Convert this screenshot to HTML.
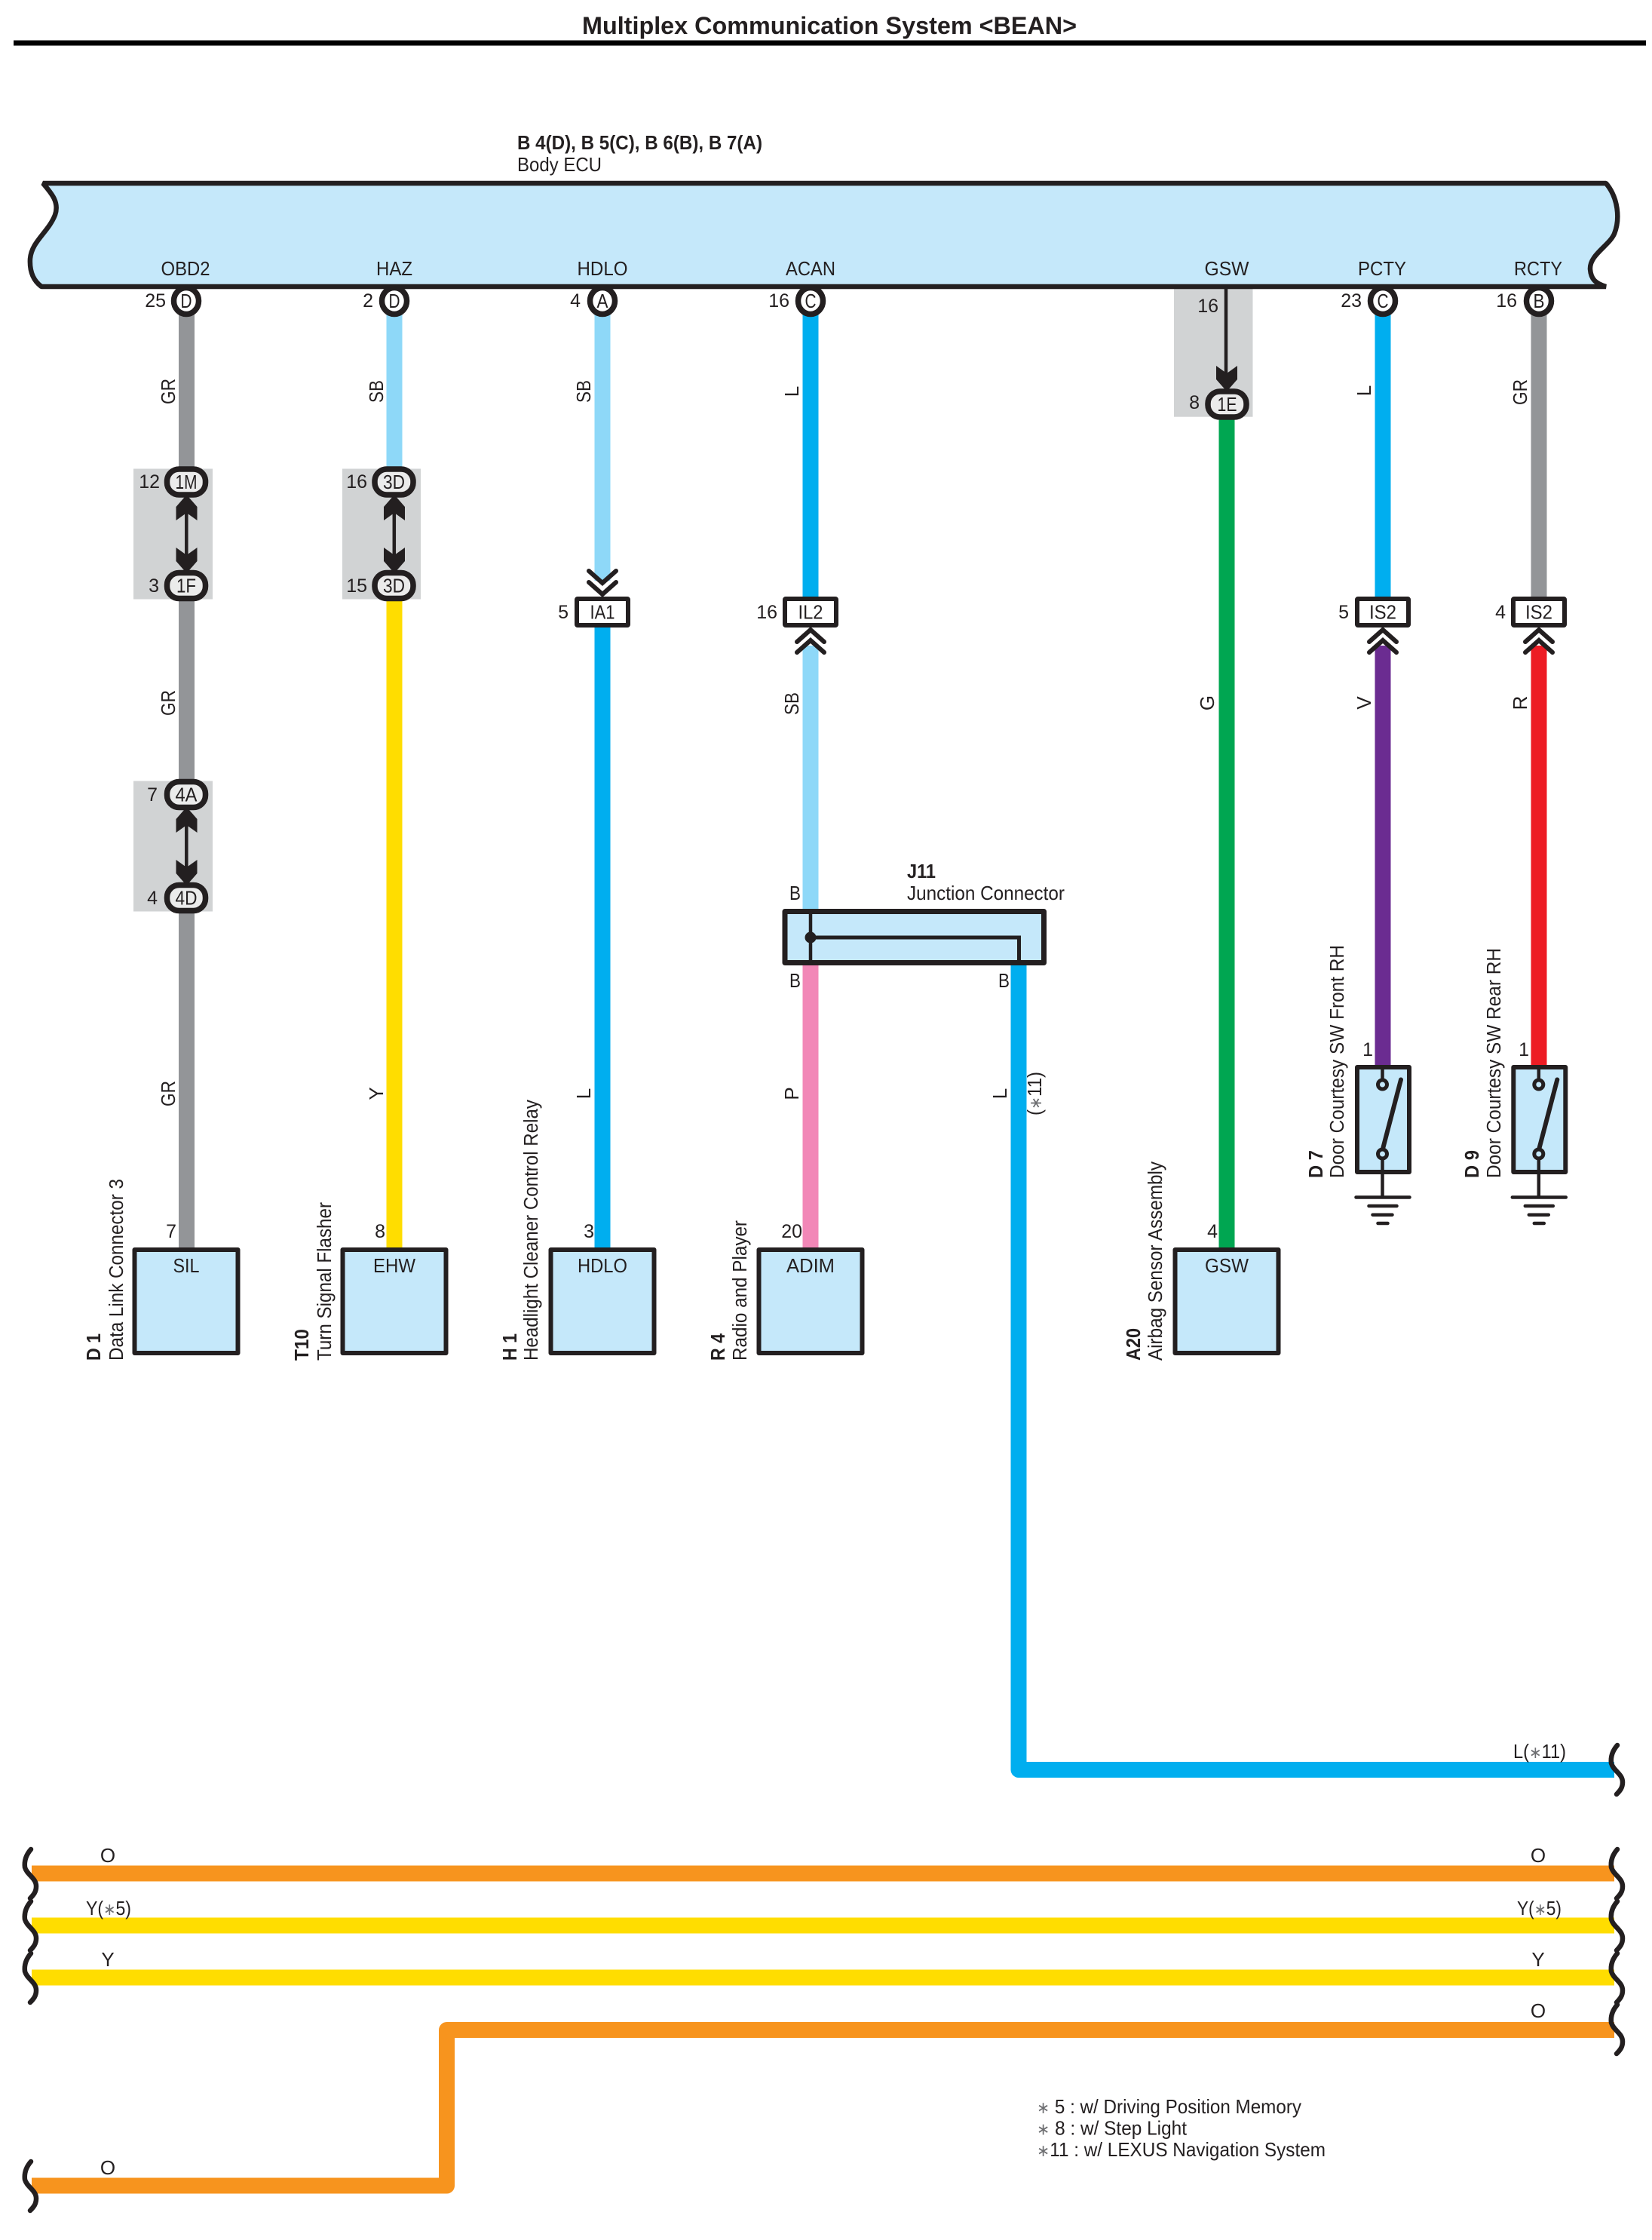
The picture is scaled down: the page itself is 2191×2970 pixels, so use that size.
<!DOCTYPE html>
<html><head><meta charset="utf-8"><style>
html,body{margin:0;padding:0;background:#fff}
svg{display:block}
text{font-family:"Liberation Sans",sans-serif;font-size:26px;fill:#231f20}
.b{font-weight:bold}
.m{text-anchor:middle}
.e{text-anchor:end;font-size:25px}
.n{font-size:25.5px}
.s{fill:#6d6e71;font-size:22px}
</style></head><body>
<svg width="2191" height="2970" viewBox="0 0 2191 2970" xmlns="http://www.w3.org/2000/svg">
<defs>
<path id="brk" d="M0,0 C-7,8 -9,16 -8,24 C-5,34 7,38 7,49 C7,56 4,60 -1,65" fill="none" stroke="#231f20" stroke-width="6.5" stroke-linecap="round"/>
<path id="up" d="M0,-4 L14,12 L14,30 L0,20 L-14,30 L-14,12 Z" fill="#231f20"/>
<path id="dn" d="M0,4 L14,-12 L14,-30 L0,-20 L-14,-30 L-14,-12 Z" fill="#231f20"/>
<path id="cd" d="M-18,-8 L0,8 L18,-8 M-18,7 L0,23 L18,7" fill="none" stroke="#231f20" stroke-width="6" stroke-linecap="round" stroke-linejoin="miter"/>
<path id="cu" d="M-18,8 L0,-8 L18,8 M-18,22 L0,6 L18,22" fill="none" stroke="#231f20" stroke-width="6" stroke-linecap="round" stroke-linejoin="miter"/>
<rect id="ov" x="-25.5" y="-17" width="51" height="34" rx="16" fill="#ebebeb" stroke="#231f20" stroke-width="7.5"/>
<rect id="sq" x="-34" y="-17.5" width="68" height="35" rx="1" fill="#fff" stroke="#231f20" stroke-width="6" stroke-linejoin="round"/>
<ellipse id="ci" cx="0" cy="0" rx="16.5" ry="17.5" fill="#fff" stroke="#231f20" stroke-width="7.5"/>
<rect id="box" x="0" y="0" width="137" height="137" fill="#c5e8fa" stroke="#231f20" stroke-width="6" stroke-linejoin="round"/>
<g id="sw">
<rect x="-33.5" y="3" width="69" height="139" fill="#c5e8fa" stroke="#231f20" stroke-width="6" stroke-linejoin="round"/>
<path d="M0,3 V18 M0,126 V175" stroke="#231f20" stroke-width="4.5" fill="none"/>
<path d="M0,113 L24.5,19.5" stroke="#231f20" stroke-width="6" stroke-linecap="round"/>
<circle cx="0" cy="26" r="6" fill="#c5e8fa" stroke="#231f20" stroke-width="5"/>
<circle cx="0" cy="118" r="6" fill="#c5e8fa" stroke="#231f20" stroke-width="5"/>
<path d="M-35,175.5 H36 M-18,187 H19 M-13,198.7 H13 M-6,210 H7" stroke="#231f20" stroke-width="4.5" stroke-linecap="round" fill="none"/>
</g>
</defs>

<rect width="2191" height="2970" fill="#fff"/>

<text class="b" x="772" y="45" style="font-size:32px" textLength="656" lengthAdjust="spacingAndGlyphs">Multiplex Communication System &lt;BEAN&gt;</text>
<rect x="18" y="53.5" width="2165" height="7" fill="#000"/>

<text class="b" x="686" y="198" textLength="325" lengthAdjust="spacingAndGlyphs">B 4(D), B 5(C), B 6(B), B 7(A)</text>
<text x="686" y="227" textLength="112" lengthAdjust="spacingAndGlyphs">Body ECU</text>

<!-- grey boxes -->
<rect x="177" y="621.5" width="105" height="173" fill="#d1d3d4"/>
<rect x="454" y="621.5" width="104" height="173" fill="#d1d3d4"/>
<rect x="177" y="1035.5" width="105" height="173" fill="#d1d3d4"/>
<rect x="1557" y="380" width="104.5" height="172.7" fill="#d1d3d4"/>

<!-- wires -->
<g fill="none" stroke-width="21">
<path d="M247.5,415 V625 M247.5,792 V1040 M247.5,1205 V1656" stroke="#939598"/>
<path d="M523,415 V625" stroke="#8ed8f8"/>
<path d="M523,792 V1656" stroke="#ffdd00"/>
<path d="M799,415 V770" stroke="#8ed8f8"/>
<path d="M799,828 V1656" stroke="#00aeef"/>
<path d="M1075,415 V795" stroke="#00aeef"/>
<path d="M1075,856 V1210" stroke="#8ed8f8"/>
<path d="M1075,1275 V1656" stroke="#f287b7"/>
<path d="M1627,552 V1656" stroke="#00a651"/>
<path d="M1834,415 V795" stroke="#00aeef"/>
<path d="M1834,856 V1414" stroke="#6b2c91"/>
<path d="M2041,415 V795" stroke="#939598"/>
<path d="M2041,856 V1414" stroke="#ed1c24"/>
<path d="M1351,1275 V2346.5 H2141" stroke="#00aeef" stroke-linejoin="round"/>
<path d="M42,2484 H2141" stroke="#f7941e"/>
<path d="M42,2553 H2141" stroke="#ffdd00"/>
<path d="M42,2622 H2141" stroke="#ffdd00"/>
<path d="M42,2898 H592.5 V2691.5 H2141" stroke="#f7941e" stroke-linejoin="round"/>
</g>

<!-- ECU -->
<path d="M57,243 H2130 C2146,262 2149,290 2141,310 C2134,326 2108,338 2109,357 C2110,370 2116,376 2130,380 H55 C44,372 39,360 40,343 C42,320 64,308 73,285 C79,268 68,256 57,243 Z" fill="#c5e8fa" stroke="#231f20" stroke-width="6.5" stroke-linejoin="bevel"/>

<g>
<text class="m" x="246" y="365" textLength="65" lengthAdjust="spacingAndGlyphs">OBD2</text>
<text class="m" x="523" y="365" textLength="48" lengthAdjust="spacingAndGlyphs">HAZ</text>
<text class="m" x="799" y="365" textLength="67" lengthAdjust="spacingAndGlyphs">HDLO</text>
<text class="m" x="1075" y="365" textLength="66" lengthAdjust="spacingAndGlyphs">ACAN</text>
<text class="m" x="1627" y="365" textLength="59" lengthAdjust="spacingAndGlyphs">GSW</text>
<text class="m" x="1833" y="365" textLength="64" lengthAdjust="spacingAndGlyphs">PCTY</text>
<text class="m" x="2040" y="365" textLength="64" lengthAdjust="spacingAndGlyphs">RCTY</text>
</g>

<!-- ECU pins -->
<use href="#ci" x="247" y="399"/><text class="m" x="247" y="408" textLength="15" lengthAdjust="spacingAndGlyphs">D</text><text class="e" x="220" y="407">25</text>
<use href="#ci" x="523" y="399"/><text class="m" x="523" y="408" textLength="15" lengthAdjust="spacingAndGlyphs">D</text><text class="e" x="495" y="407">2</text>
<use href="#ci" x="799" y="399"/><text class="m" x="799" y="408" textLength="15" lengthAdjust="spacingAndGlyphs">A</text><text class="e" x="770" y="407">4</text>
<use href="#ci" x="1075" y="399"/><text class="m" x="1075" y="408" textLength="15" lengthAdjust="spacingAndGlyphs">C</text><text class="e" x="1047" y="407">16</text>
<use href="#ci" x="1834" y="399"/><text class="m" x="1834" y="408" textLength="15" lengthAdjust="spacingAndGlyphs">C</text><text class="e" x="1806" y="407">23</text>
<use href="#ci" x="2041" y="399"/><text class="m" x="2041" y="408" textLength="15" lengthAdjust="spacingAndGlyphs">B</text><text class="e" x="2012" y="407">16</text>

<!-- joint arrows -->
<path d="M247.3,670 V746 M522.8,670 V746 M247.3,1084 V1160" stroke="#231f20" stroke-width="4.5"/>
<use href="#up" x="247.5" y="660"/><use href="#dn" x="247.5" y="756"/>
<use href="#up" x="523" y="660"/><use href="#dn" x="523" y="756"/>
<use href="#up" x="247.5" y="1074"/><use href="#dn" x="247.5" y="1170"/>
<path d="M1626,380 V505" stroke="#231f20" stroke-width="4.5"/>
<use href="#dn" x="1627" y="515"/>

<!-- ovals -->
<use href="#ov" x="247" y="639"/><text class="m" x="247" y="648" textLength="29" lengthAdjust="spacingAndGlyphs">1M</text><text class="e" x="212" y="647">12</text>
<use href="#ov" x="247" y="776.5"/><text class="m" x="247" y="785.5" textLength="26" lengthAdjust="spacingAndGlyphs">1F</text><text class="e" x="211" y="785">3</text>
<use href="#ov" x="522.5" y="639"/><text class="m" x="522.5" y="648" textLength="29" lengthAdjust="spacingAndGlyphs">3D</text><text class="e" x="487" y="647">16</text>
<use href="#ov" x="522.5" y="776.5"/><text class="m" x="522.5" y="785.5" textLength="29" lengthAdjust="spacingAndGlyphs">3D</text><text class="e" x="487" y="785">15</text>
<use href="#ov" x="247" y="1053.5"/><text class="m" x="247" y="1062.5" textLength="29" lengthAdjust="spacingAndGlyphs">4A</text><text class="e" x="209" y="1062">7</text>
<use href="#ov" x="247" y="1190.5"/><text class="m" x="247" y="1199.5" textLength="29" lengthAdjust="spacingAndGlyphs">4D</text><text class="e" x="209" y="1199">4</text>
<use href="#ov" x="1627.5" y="536"/><text class="m" x="1627.5" y="545" textLength="26" lengthAdjust="spacingAndGlyphs">1E</text><text class="e" x="1591" y="542">8</text>
<text class="e" x="1616" y="414">16</text>

<!-- square connectors -->
<use href="#cd" x="799" y="765"/>
<use href="#sq" x="799" y="811.5"/><text class="m" x="799" y="820.5" textLength="33" lengthAdjust="spacingAndGlyphs">IA1</text><text class="e" x="754" y="820">5</text>
<use href="#sq" x="1075" y="811.5"/><text class="m" x="1075" y="820.5" textLength="33" lengthAdjust="spacingAndGlyphs">IL2</text><text class="e" x="1031" y="820">16</text>
<use href="#cu" x="1075" y="843"/>
<use href="#sq" x="1834" y="811.5"/><text class="m" x="1834" y="820.5" textLength="36" lengthAdjust="spacingAndGlyphs">IS2</text><text class="e" x="1789" y="820">5</text>
<use href="#cu" x="1834" y="843"/>
<use href="#sq" x="2041" y="811.5"/><text class="m" x="2041" y="820.5" textLength="36" lengthAdjust="spacingAndGlyphs">IS2</text><text class="e" x="1997" y="820">4</text>
<use href="#cu" x="2041" y="843"/>

<!-- J11 -->
<rect x="1041" y="1208.5" width="343.5" height="68" fill="#c5e8fa" stroke="#231f20" stroke-width="7" stroke-linejoin="round"/>
<path d="M1075,1205 V1280" stroke="#231f20" stroke-width="4.5" fill="none"/>
<path d="M1075,1243 H1351.5 V1280" stroke="#231f20" stroke-width="5" fill="none"/>
<circle cx="1075" cy="1243" r="7.5" fill="#231f20"/>
<text class="b" x="1203" y="1164" textLength="38" lengthAdjust="spacingAndGlyphs">J11</text>
<text x="1203" y="1193" textLength="209" lengthAdjust="spacingAndGlyphs">Junction Connector</text>
<text x="1047" y="1193" textLength="15" lengthAdjust="spacingAndGlyphs">B</text>
<text x="1047" y="1309" textLength="15" lengthAdjust="spacingAndGlyphs">B</text>
<text x="1324" y="1309" textLength="15" lengthAdjust="spacingAndGlyphs">B</text>

<!-- component boxes -->
<use href="#box" x="178.5" y="1657"/><text class="m" x="247" y="1687" textLength="35" lengthAdjust="spacingAndGlyphs">SIL</text><text class="e" x="234" y="1641">7</text>
<use href="#box" x="454.5" y="1657"/><text class="m" x="523" y="1687" textLength="56" lengthAdjust="spacingAndGlyphs">EHW</text><text class="e" x="511" y="1641">8</text>
<use href="#box" x="730.5" y="1657"/><text class="m" x="799" y="1687" textLength="66" lengthAdjust="spacingAndGlyphs">HDLO</text><text class="e" x="788" y="1641">3</text>
<use href="#box" x="1006.5" y="1657"/><text class="m" x="1075" y="1687" textLength="64" lengthAdjust="spacingAndGlyphs">ADIM</text><text class="e" x="1064" y="1641">20</text>
<use href="#box" x="1558.5" y="1657"/><text class="m" x="1627" y="1687" textLength="58" lengthAdjust="spacingAndGlyphs">GSW</text><text class="e" x="1615" y="1641">4</text>

<!-- switches -->
<use href="#sw" x="1833.5" y="1412"/>
<use href="#sw" x="2040.8" y="1412"/>
<text class="e" x="1821" y="1400">1</text>
<text class="e" x="2028" y="1400">1</text>

<!-- rotated names -->
<text class="b" transform="translate(133,1804) rotate(-90)" textLength="36" lengthAdjust="spacingAndGlyphs">D 1</text>
<text class="n" transform="translate(163,1804) rotate(-90)" textLength="241" lengthAdjust="spacingAndGlyphs">Data Link Connector 3</text>
<text class="b" transform="translate(409,1804) rotate(-90)" textLength="42" lengthAdjust="spacingAndGlyphs">T10</text>
<text class="n" transform="translate(439,1804) rotate(-90)" textLength="210" lengthAdjust="spacingAndGlyphs">Turn Signal Flasher</text>
<text class="b" transform="translate(685,1804) rotate(-90)" textLength="36" lengthAdjust="spacingAndGlyphs">H 1</text>
<text class="n" transform="translate(713,1804) rotate(-90)" textLength="346" lengthAdjust="spacingAndGlyphs">Headlight Cleaner Control Relay</text>
<text class="b" transform="translate(961,1804) rotate(-90)" textLength="36" lengthAdjust="spacingAndGlyphs">R 4</text>
<text class="n" transform="translate(990,1804) rotate(-90)" textLength="186" lengthAdjust="spacingAndGlyphs">Radio and Player</text>
<text class="b" transform="translate(1512,1804) rotate(-90)" textLength="43" lengthAdjust="spacingAndGlyphs">A20</text>
<text class="n" transform="translate(1541,1804) rotate(-90)" textLength="264" lengthAdjust="spacingAndGlyphs">Airbag Sensor Assembly</text>
<text class="b" transform="translate(1754,1562) rotate(-90)" textLength="37" lengthAdjust="spacingAndGlyphs">D 7</text>
<text class="n" transform="translate(1782,1562) rotate(-90)" textLength="309" lengthAdjust="spacingAndGlyphs">Door Courtesy SW Front RH</text>
<text class="b" transform="translate(1961,1562) rotate(-90)" textLength="37" lengthAdjust="spacingAndGlyphs">D 9</text>
<text class="n" transform="translate(1990,1562) rotate(-90)" textLength="305" lengthAdjust="spacingAndGlyphs">Door Courtesy SW Rear RH</text>

<!-- wire labels -->
<g>
<text class="m" transform="translate(232,519) rotate(-90)" textLength="34" lengthAdjust="spacingAndGlyphs">GR</text>
<text class="m" transform="translate(232,932) rotate(-90)" textLength="34" lengthAdjust="spacingAndGlyphs">GR</text>
<text class="m" transform="translate(232,1450) rotate(-90)" textLength="34" lengthAdjust="spacingAndGlyphs">GR</text>
<text class="m" transform="translate(508,519) rotate(-90)" textLength="30" lengthAdjust="spacingAndGlyphs">SB</text>
<text class="m" transform="translate(508,1450) rotate(-90)">Y</text>
<text class="m" transform="translate(783,519) rotate(-90)" textLength="30" lengthAdjust="spacingAndGlyphs">SB</text>
<text class="m" transform="translate(783,1450) rotate(-90)">L</text>
<text class="m" transform="translate(1059,519) rotate(-90)">L</text>
<text class="m" transform="translate(1059,933) rotate(-90)" textLength="30" lengthAdjust="spacingAndGlyphs">SB</text>
<text class="m" transform="translate(1059,1450) rotate(-90)">P</text>
<text class="m" transform="translate(1335,1450) rotate(-90)">L</text>
<text class="m" transform="translate(1381,1450) rotate(-90)" textLength="58" lengthAdjust="spacingAndGlyphs">(<tspan class="s">∗</tspan>11)</text>
<text class="m" transform="translate(1610,932) rotate(-90)">G</text>
<text class="m" transform="translate(1818,518) rotate(-90)">L</text>
<text class="m" transform="translate(1818,932) rotate(-90)">V</text>
<text class="m" transform="translate(2025,520) rotate(-90)" textLength="34" lengthAdjust="spacingAndGlyphs">GR</text>
<text class="m" transform="translate(2025,932) rotate(-90)">R</text>
</g>

<!-- bottom wire labels -->
<text class="m" x="143" y="2469">O</text>
<text x="114" y="2539" textLength="60" lengthAdjust="spacingAndGlyphs">Y(<tspan class="s">∗</tspan>5)</text>
<text class="m" x="143" y="2607">Y</text>
<text class="m" x="143" y="2883">O</text>
<text x="2007" y="2331" textLength="70" lengthAdjust="spacingAndGlyphs">L(<tspan class="s">∗</tspan>11)</text>
<text class="m" x="2040" y="2469">O</text>
<text x="2012" y="2539" textLength="59" lengthAdjust="spacingAndGlyphs">Y(<tspan class="s">∗</tspan>5)</text>
<text class="m" x="2040" y="2607">Y</text>
<text class="m" x="2040" y="2675">O</text>

<!-- break marks -->
<use href="#brk" x="41" y="2452"/><use href="#brk" x="41" y="2521"/><use href="#brk" x="41" y="2590"/><use href="#brk" x="41" y="2866"/>
<use href="#brk" x="2145" y="2314"/><use href="#brk" x="2145" y="2452"/><use href="#brk" x="2145" y="2521"/><use href="#brk" x="2145" y="2590"/><use href="#brk" x="2145" y="2658"/>

<!-- notes -->
<text x="1375" y="2802" textLength="351" lengthAdjust="spacingAndGlyphs"><tspan class="s">∗</tspan> 5 : w/ Driving Position Memory</text>
<text x="1375" y="2830.5" textLength="199" lengthAdjust="spacingAndGlyphs"><tspan class="s">∗</tspan> 8 : w/ Step Light</text>
<text x="1375" y="2859" textLength="383" lengthAdjust="spacingAndGlyphs"><tspan class="s">∗</tspan>11 : w/ LEXUS Navigation System</text>
</svg>
</body></html>
